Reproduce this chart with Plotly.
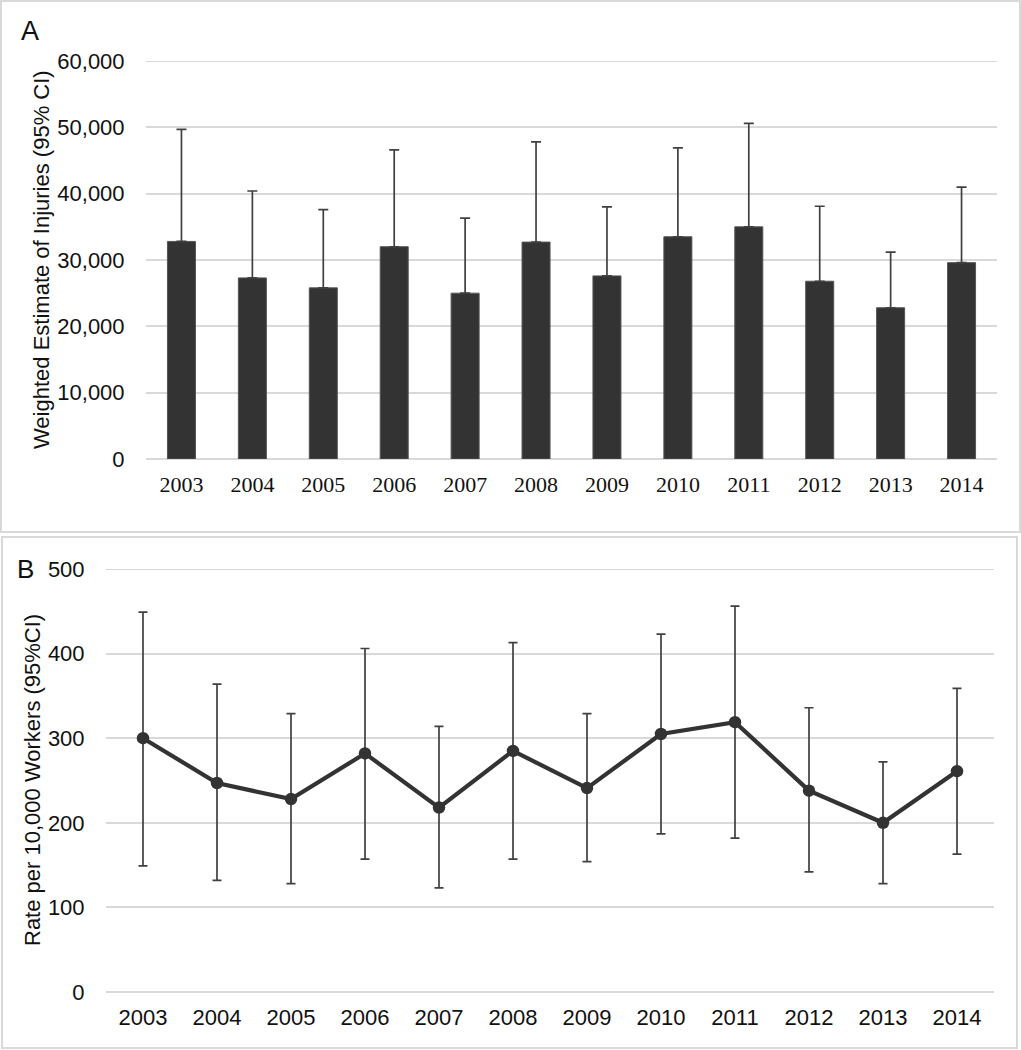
import plotly.graph_objects as go

years = ["2003", "2004", "2005", "2006", "2007", "2008", "2009", "2010", "2011", "2012", "2013", "2014"]

# Panel A: weighted estimate of injuries with upper 95% CI
injuries = [32800, 27300, 25800, 32000, 25000, 32700, 27600, 33500, 35000, 26800, 22800, 29600]
injuries_upper = [49700, 40400, 37600, 46600, 36300, 47800, 38000, 46900, 50600, 38100, 31200, 41000]

# Panel B: rate per 10,000 workers with 95% CI
rate = [300, 247, 228, 282, 218, 285, 241, 305, 319, 238, 200, 261]
rate_upper = [449, 364, 329, 406, 314, 413, 329, 423, 456, 336, 272, 359]
rate_lower = [149, 132, 128, 157, 123, 157, 154, 187, 182, 142, 128, 163]

yticks_a = [0, 10000, 20000, 30000, 40000, 50000, 60000]
yticks_b = [0, 100, 200, 300, 400, 500]

W, H = 1021, 1050
DARK = "#333333"
GRID = "#d9d9d9"
TXT = "#111111"

def px(x):
    return x / W

def py(y):
    return 1 - y / H

fig = go.Figure()

fig.add_trace(go.Bar(
    x=years, y=injuries,
    marker=dict(color=DARK, line=dict(color="#555555", width=1)),
    error_y=dict(type="data", symmetric=False,
                 array=[u - v for u, v in zip(injuries_upper, injuries)],
                 arrayminus=[0] * len(injuries),
                 color="#404040", thickness=1.7, width=5),
    xaxis="x", yaxis="y", showlegend=False,
))

fig.add_trace(go.Scatter(
    x=years, y=rate, mode="lines+markers",
    line=dict(color=DARK, width=4.2),
    marker=dict(color=DARK, size=12.5),
    error_y=dict(type="data", symmetric=False,
                 array=[u - v for u, v in zip(rate_upper, rate)],
                 arrayminus=[v - l for v, l in zip(rate, rate_lower)],
                 color="#404040", thickness=1.7, width=4.5),
    xaxis="x2", yaxis="y2", showlegend=False,
))

fig.update_layout(
    width=W, height=H,
    margin=dict(l=0, r=0, t=0, b=0, pad=0, autoexpand=False),
    paper_bgcolor="white", plot_bgcolor="white",
    bargap=0.605,
    font=dict(family="Liberation Sans, Arial, sans-serif", color=TXT, size=22),
    xaxis=dict(domain=[px(146), px(997)], anchor="y", range=[-0.5, 11.5],
               type="category", showgrid=False, showline=False, zeroline=False, automargin=False,
               ticks="outside", ticklen=6, tickcolor="rgba(0,0,0,0)",
               tickfont=dict(family="Liberation Serif, Times New Roman, serif", size=22, color=TXT)),
    yaxis=dict(domain=[py(459), py(61)], anchor="x", range=[0, 60000], automargin=False,
               tickvals=yticks_a, tickformat=",", showgrid=True, gridcolor=GRID, gridwidth=1.8,
               zeroline=True, zerolinecolor=GRID, zerolinewidth=1.8, showline=False,
               ticks="outside", ticklen=16, tickcolor="rgba(0,0,0,0)",
               tickfont=dict(size=22, color=TXT)),
    xaxis2=dict(domain=[px(106), px(994)], anchor="y2", range=[-0.5, 11.5], automargin=False,
                type="category", showgrid=False, showline=False, zeroline=False,
                ticks="outside", ticklen=6, tickcolor="rgba(0,0,0,0)",
                tickfont=dict(size=22, color=TXT)),
    yaxis2=dict(domain=[py(992), py(569)], anchor="x2", range=[0, 500], automargin=False,
                tickvals=yticks_b, showgrid=True, gridcolor=GRID, gridwidth=1.8,
                zeroline=True, zerolinecolor=GRID, zerolinewidth=1.8, showline=False,
                ticks="outside", ticklen=16, tickcolor="rgba(0,0,0,0)",
                tickfont=dict(size=22, color=TXT)),
)

# Top gridlines at range ends (plotly clips grid lines at the edges)
fig.add_shape(type="line", xref="x domain", yref="y", x0=0, x1=1,
              y0=yticks_a[-1], y1=yticks_a[-1], line=dict(color=GRID, width=1.8), layer="below")
fig.add_shape(type="line", xref="x2 domain", yref="y2", x0=0, x1=1,
              y0=yticks_b[-1], y1=yticks_b[-1], line=dict(color=GRID, width=1.8), layer="below")

# Panel borders
fig.add_shape(type="rect", xref="paper", yref="paper",
              x0=px(1), x1=px(1020), y0=py(532), y1=py(1),
              line=dict(color=GRID, width=2), layer="below")
fig.add_shape(type="rect", xref="paper", yref="paper",
              x0=px(2), x1=px(1017), y0=py(1048), y1=py(537),
              line=dict(color=GRID, width=2), layer="below")

# Panel letters
fig.add_annotation(text="A", xref="paper", yref="paper", x=px(30), y=py(31),
                   showarrow=False, font=dict(size=27, color=TXT), xanchor="center", yanchor="middle")
fig.add_annotation(text="B", xref="paper", yref="paper", x=px(25), y=py(569),
                   showarrow=False, font=dict(size=26, color=TXT), xanchor="center", yanchor="middle")

# Axis titles
fig.add_annotation(text="Weighted Estimate of Injuries (95% CI)", xref="paper", yref="paper",
                   x=px(41), y=py(260), textangle=-90, showarrow=False,
                   font=dict(size=22, color=TXT), xanchor="center", yanchor="middle")
fig.add_annotation(text="Rate per 10,000 Workers (95%CI)", xref="paper", yref="paper",
                   x=px(32), y=py(780), textangle=-90, showarrow=False,
                   font=dict(size=22, color=TXT), xanchor="center", yanchor="middle")

post = (
    "document.documentElement.style.margin='0px';"
    "document.documentElement.style.padding='0px';"
    "document.documentElement.style.overflow='hidden';"
    "document.body.style.margin='0px';"
    "document.body.style.padding='0px';"
    "document.body.style.overflow='hidden';"
    "var gd=document.getElementsByClassName('plotly-graph-div')[0];"
    "gd.style.position='absolute';gd.style.top='0px';gd.style.left='0px';"
)

fig.write_html("out.html", config={"displayModeBar": False}, post_script=post)
